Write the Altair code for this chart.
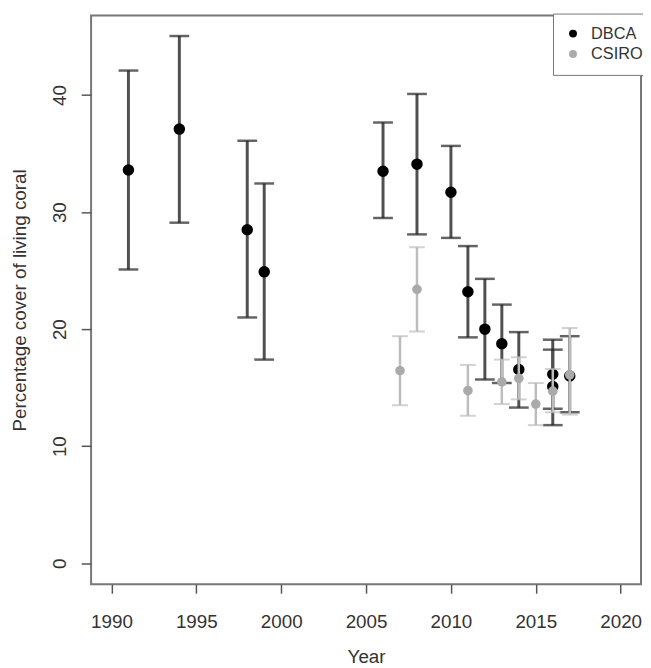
import altair as alt
import pandas as pd

# DBCA survey values (percentage cover, mean with lower/upper interval)
dbca_year = [1991, 1994, 1998, 1999, 2006, 2008, 2010, 2011, 2012, 2013, 2014, 2016, 2016, 2017]
dbca_mean = [33.6, 37.1, 28.5, 24.9, 33.5, 34.1, 31.7, 23.2, 20.0, 18.75, 16.55, 16.15, 15.1, 16.0]
dbca_lo = [25.1, 29.1, 21.0, 17.4, 29.5, 28.1, 27.8, 19.3, 15.7, 15.4, 13.3, 13.2, 11.8, 12.9]
dbca_hi = [42.1, 45.05, 36.1, 32.45, 37.66, 40.1, 35.66, 27.1, 24.3, 22.1, 19.75, 19.1, 18.25, 19.4]

# CSIRO survey values
csiro_year = [2007, 2008, 2011, 2013, 2014, 2015, 2016, 2017]
csiro_mean = [16.45, 23.4, 14.75, 15.5, 15.8, 13.6, 14.7, 16.1]
csiro_lo = [13.5, 19.8, 12.6, 13.6, 14.0, 11.8, 12.9, 12.7]
csiro_hi = [19.4, 27.0, 16.95, 17.4, 17.6, 15.4, 16.6, 20.1]

series_names = ["DBCA", "CSIRO"]
x_ticks = [1990, 1995, 2000, 2005, 2010, 2015, 2020]
y_ticks = [0, 10, 20, 30, 40]

dbca = pd.DataFrame({"Year": dbca_year, "mean": dbca_mean, "lo": dbca_lo, "hi": dbca_hi, "Source": "DBCA"})
csiro = pd.DataFrame({"Year": csiro_year, "mean": csiro_mean, "lo": csiro_lo, "hi": csiro_hi, "Source": "CSIRO"})

xs = alt.Scale(domain=[1988.8, 2021.2], nice=False, zero=False)
ys = alt.Scale(domain=[-1.8, 46.8], nice=False, zero=False)

x_enc = alt.X("Year:Q", scale=xs, title="Year",
              axis=alt.Axis(values=x_ticks, format="d", grid=False, domain=False,
                            tickSize=9, labelPadding=20, titleY=73, titleBaseline="middle"))
y_axis = alt.Axis(values=y_ticks, grid=False, domain=False, tickSize=10, labelPadding=12,
                  labelAngle=270, labelAlign="center", labelBaseline="bottom",
                  titleAngle=270, titleX=-72, titleBaseline="middle")


def bars(df, bar_color, cap_color, width, cap_size, cap_thick):
    base = alt.Chart(df)
    rule = base.mark_rule(color=bar_color, strokeWidth=width).encode(
        x=x_enc,
        y=alt.Y("lo:Q", scale=ys, title="Percentage cover of living coral", axis=y_axis),
        y2="hi:Q",
    )
    cap_lo = base.mark_tick(color=cap_color, size=cap_size, thickness=cap_thick, orient="horizontal").encode(
        x="Year:Q", y=alt.Y("lo:Q", scale=ys))
    cap_hi = base.mark_tick(color=cap_color, size=cap_size, thickness=cap_thick, orient="horizontal").encode(
        x="Year:Q", y=alt.Y("hi:Q", scale=ys))
    return rule + cap_lo + cap_hi


color = alt.Color("Source:N",
                  scale=alt.Scale(domain=series_names, range=["#000000", "#aaaaaa"]),
                  legend=alt.Legend(title=None, orient="none", legendX=467, legendY=-2,
                                    strokeColor="#777777", fillColor="white",
                                    padding=12, symbolType="circle", symbolSize=64,
                                    labelFontSize=16.5, labelFont="Liberation Sans",
                                    labelOffset=10, labelColor="#333333", rowPadding=3.5,
                                    symbolStrokeWidth=0))

d_bars = bars(dbca, "#505050", "#222222", 3, 20, 2.5)
c_bars = bars(csiro, "#bdbdbd", "#bdbdbd", 2.5, 16, 2)

d_pts = alt.Chart(dbca).mark_circle(size=135, opacity=1).encode(
    x="Year:Q", y=alt.Y("mean:Q", scale=ys), color=color)
c_pts = alt.Chart(csiro).mark_circle(size=95, opacity=1).encode(
    x="Year:Q", y=alt.Y("mean:Q", scale=ys), color=color)

chart = alt.layer(d_bars, d_pts, c_bars, c_pts).properties(
    width=556, height=575,
    autosize=alt.AutoSizeParams(type="none"),
    padding={"left": 84, "top": 4, "right": 2, "bottom": 80},
).configure_view(
    stroke="#777777", strokeWidth=2
).configure_axis(
    labelFont="Liberation Sans", titleFont="Liberation Sans",
    labelFontSize=19, titleFontSize=19, titleFontWeight="normal",
    labelColor="#333333", titleColor="#333333", tickColor="#555555", tickWidth=1.5
)

chart.save("out.html", embed_options={"renderer": "svg", "actions": False})
